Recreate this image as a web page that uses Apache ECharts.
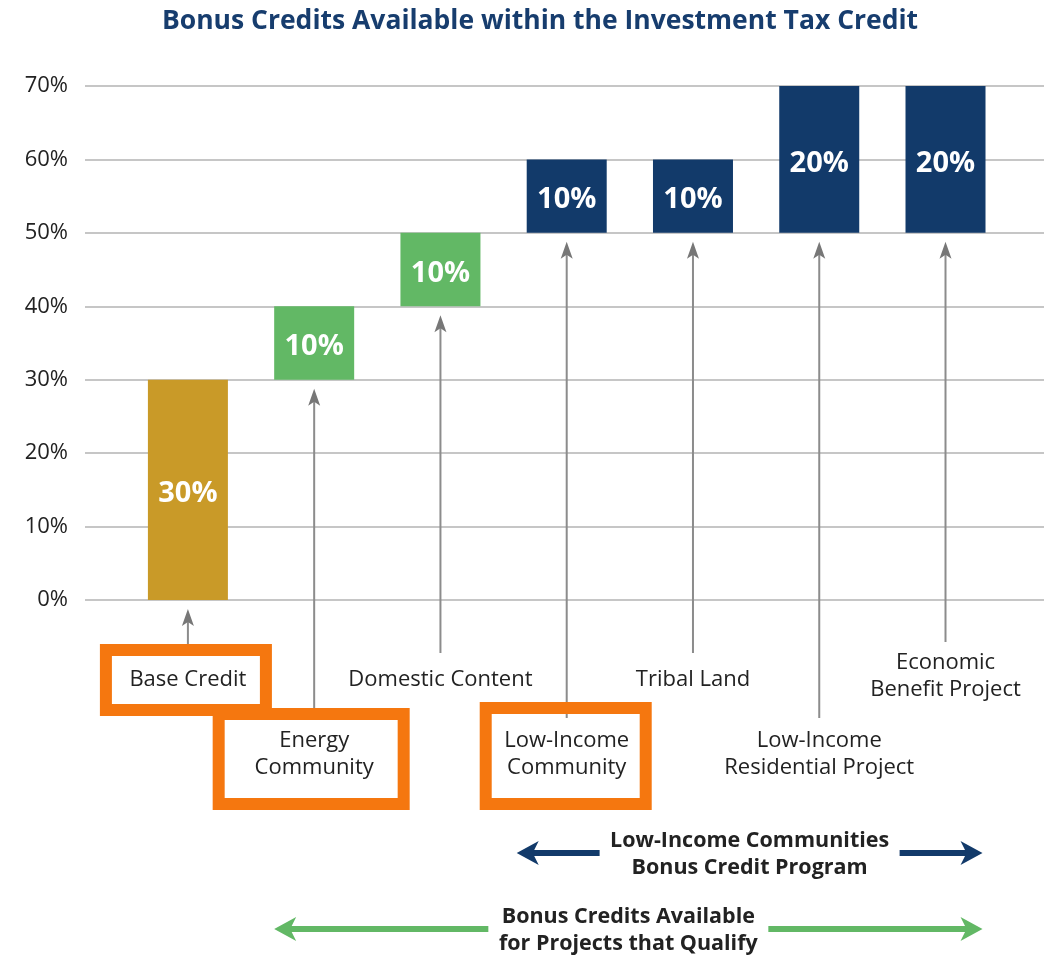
<!DOCTYPE html>
<html>
<head>
<meta charset="utf-8">
<script src="https://cdn.jsdelivr.net/npm/echarts@6/dist/echarts.min.js"></script>
<style>
  html, body { margin: 0; background: #fff; }
  #main { width: 1050px; height: 956px; }
</style>
</head>
<body>
<div id="main"></div>
<script>
// chart data
const categories = ['Base Credit', 'Energy\nCommunity', 'Domestic Content', 'Low-Income\nCommunity',
  'Tribal Land', 'Low-Income\nResidential Project', 'Economic\nBenefit Project'];
const baseLevels = [0, 30, 40, 50, 50, 50, 50];
const bonusValues = [30, 10, 10, 10, 10, 20, 20];
const highlighted = [true, true, false, true, false, false, false];
const yTicks = [0, 10, 20, 30, 40, 50, 60, 70];
const programs = [
  { name: 'Low-Income Communities\nBonus Credit Program', from: 3, to: 6 },
  { name: 'Bonus Credits Available\nfor Projects that Qualify', from: 1, to: 6 }
];

const GOLD = '#C99A28', GREEN = '#62B865', NAVY = '#123A6A', ORANGE = '#F5770F';
const barColors = [GOLD, GREEN, GREEN, NAVY, NAVY, NAVY, NAVY];
const programColors = [NAVY, GREEN];
const FONT = '"Open Sans", "Noto Sans", sans-serif';

// label/arrow layout under the axis (pixels below the 0% line)
const layout = [
  { tail: 44, labelY: 80, box: [-2, 80, 160, 60] },
  { tail: 108, labelY: 154, box: [-3, 159, 185, 90] },
  { tail: 53, labelY: 80 },
  { tail: 118, labelY: 154, box: [-1, 156, 160, 96] },
  { tail: 53, labelY: 80 },
  { tail: 118, labelY: 154 },
  { tail: 42, labelY: 76 }
];

var chart = echarts.init(document.getElementById('main'));

function renderBar(params, api) {
  var i = api.value(0);
  var lo = api.coord([i, api.value(1)]);
  var hi = api.coord([i, api.value(1) + api.value(2)]);
  return {
    type: 'group',
    children: [
      { type: 'rect', shape: { x: lo[0] - 40, y: hi[1], width: 80, height: lo[1] - hi[1] },
        style: { fill: barColors[i] } },
      { type: 'text', x: lo[0], y: (lo[1] + hi[1]) / 2 + 4,
        style: { text: api.value(2) + '%', fill: '#fff', font: 'bold 29px ' + FONT,
          align: 'center', verticalAlign: 'middle' } }
    ]
  };
}

function renderNote(params, api) {
  var i = api.value(0);
  var bottom = api.coord([i, api.value(1)]);
  var axisY = api.coord([i, 0])[1];
  var x = bottom[0];
  var L = layout[i];
  var tipY = bottom[1] + 9;
  var children = [
    { type: 'line', shape: { x1: x, y1: axisY + L.tail, x2: x, y2: tipY + 12 },
      style: { stroke: '#8c8c8c', lineWidth: 2 } },
    { type: 'polygon', shape: { points: [[x, tipY], [x - 6, tipY + 17], [x, tipY + 13], [x + 6, tipY + 17]] },
      style: { fill: '#777' } },
    { type: 'text', x: x, y: axisY + L.labelY,
      style: { text: categories[i], fill: '#222', font: '22px ' + FONT, align: 'center',
        verticalAlign: 'middle', lineHeight: 27 } }
  ];
  if (highlighted[i] && L.box) {
    var b = L.box;
    children.push({ type: 'rect', z2: 5,
      shape: { x: x + b[0] - b[2] / 2, y: axisY + b[1] - b[3] / 2, width: b[2], height: b[3] },
      style: { fill: null, stroke: ORANGE, lineWidth: 12 } });
  }
  return { type: 'group', children: children };
}

var option = {
  animation: false,
  backgroundColor: '#fff',
  title: {
    text: 'Bonus Credits Available within the Investment Tax Credit',
    left: 535, top: 3, textAlign: 'center',
    textStyle: { color: '#173D6E', fontSize: 26.5, fontWeight: 'bold', fontFamily: FONT }
  },
  grid: { left: 85, right: 6, top: 86, bottom: 356 },
  xAxis: {
    type: 'value', min: -0.815, max: 6.78,
    axisLine: { show: false }, axisTick: { show: false }, axisLabel: { show: false }, splitLine: { show: false }
  },
  yAxis: {
    type: 'value', min: yTicks[0], max: yTicks[yTicks.length - 1], interval: 10,
    axisLine: { show: false }, axisTick: { show: false },
    axisLabel: { formatter: '{value}%', color: '#222', fontSize: 22, fontFamily: FONT, margin: 17 },
    splitLine: { lineStyle: { color: '#c6c6c6', width: 2 } }
  },
  series: [
    {
      type: 'custom', z: 3,
      renderItem: renderBar,
      encode: { x: 0, y: [1, 2] },
      data: bonusValues.map((v, i) => [i, baseLevels[i], v])
    },
    {
      type: 'custom', silent: true, z: 5,
      renderItem: renderNote,
      encode: { x: 0, y: 1 },
      data: baseLevels.map((v, i) => [i, v])
    }
  ]
};
chart.setOption(option);

// program arrows below the labels
function arrowHead(x, y, dir, color) {
  return { type: 'polygon', shape: { points: [[x, y], [x - dir * 22, y - 12], [x - dir * 16, y], [x - dir * 22, y + 12]] },
    style: { fill: color } };
}
var progY = [253, 329];
var progGap = [150, 140];
var graphics = [];
programs.forEach(function (p, k) {
  var y0 = chart.convertToPixel({ yAxisIndex: 0 }, 0) + progY[k];
  var left = chart.convertToPixel({ xAxisIndex: 0 }, p.from) - (k === 0 ? 50 : 40);
  var right = chart.convertToPixel({ xAxisIndex: 0 }, p.to) + 37;
  var mid = (left + right) / 2;
  var color = programColors[k];
  graphics.push(
    { type: 'line', shape: { x1: left + 14, y1: y0, x2: mid - progGap[k], y2: y0 }, style: { stroke: color, lineWidth: 6 } },
    { type: 'line', shape: { x1: mid + progGap[k], y1: y0, x2: right - 14, y2: y0 }, style: { stroke: color, lineWidth: 6 } },
    arrowHead(left, y0, -1, color),
    arrowHead(right, y0, 1, color),
    { type: 'text', x: mid, y: y0 + 1,
      style: { text: p.name, fill: '#222', font: 'bold 21.5px ' + FONT, align: 'center', verticalAlign: 'middle', lineHeight: 27 } }
  );
});
chart.setOption({ graphic: graphics });
</script>
</body>
</html>
